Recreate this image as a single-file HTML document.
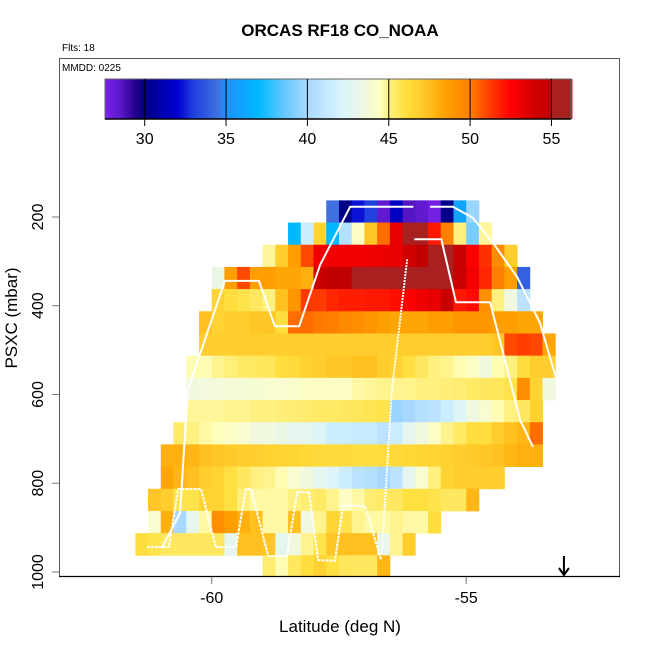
<!DOCTYPE html>
<html><head><meta charset="utf-8"><style>
html,body{margin:0;padding:0;background:#fff;}
svg{display:block;font-family:"Liberation Sans",sans-serif;}
</style></head><body>
<svg id="chart" width="650" height="650" viewBox="0 0 650 650">
<g id="cells"></g>
<g id="tracks"></g>
<g id="colorbar"></g>
<g id="axes"></g>
<text x="340" y="36" text-anchor="middle" font-size="17" font-weight="bold">ORCAS RF18 CO_NOAA</text>
<text x="62" y="51" font-size="10">Flts: 18</text>
<text x="62" y="71" font-size="10">MMDD: 0225</text>
<text x="340" y="632" text-anchor="middle" font-size="17">Latitude (deg N)</text>
<text transform="translate(17,318) rotate(-90)" text-anchor="middle" font-size="17">PSXC (mbar)</text>
</svg>
<script>
// ---- data ----
const latStep = 0.25;
const presStep = 50;
const presTop = 162.5;
const rowStartLat = [-57.75,-58.5,-59,-60,-60,-60.25,-60.25,-60.5,-60.5,-60.5,-60.75,-61,-61,-61.25,-61.25,-61.5,-59];
const row0 = [34.5,30.2,32.3,33,28.3,31.5,28.6,28.3,27.8,30.2,36,39.7];
const row1 = [37,41.5,46.6,37,40.5,44.3,47.2,50.3,53.3,56,55.2,52,50,45,39,44.8];
const row2 = [44.8,46.9,48.6,51,52.9,52.9,52.9,52.9,53,53.1,53.3,54,55,55.1,56,54.5,52.6,51.5,49.5,46.9];
const row3 = [43.2,48.6,51,48.6,48.6,48.3,48.3,48,54.5,55,55,55.1,55.1,55.2,56,55.1,55.2,56,55.2,54.5,52.9,51.7,50,48.6,34];
const row4 = [46.6,46.1,45.8,45.5,45,47.5,49,51.3,51.3,51.7,51.9,51.9,52,52,52.2,52.5,53,53.3,54.5,52,52.3,49.3,45,43.5,40.8];
const row5 = [47.5,46.6,46.9,46.9,47.2,47.2,46.1,50.3,50.3,50.1,50,49.6,49.3,49,48.6,48.3,48.3,48.3,48.6,48.6,49,49,49,48.6,48.6,48.3,48.3];
const row6 = [46.9,46.8,46.8,46.9,46.9,46.9,46.9,46.9,46.9,46.9,46.9,46.9,46.9,46.9,46.9,46.9,46.9,46.9,46.9,46.9,46.9,46.9,46.9,47.2,51,51.2,51,48.3];
const row7 = [44.6,44.6,44.9,45.1,45.4,45.5,45.6,46.1,46.3,46.7,46.9,47.2,47.2,47.5,47.5,46.9,46.6,46,45.5,45,44.9,44.6,44.3,43.5,44.6,45,46.1,46.9,46.9];
const row8 = [43.5,43.6,43.7,43.8,43.8,43.9,44,44,44.1,44.3,44.3,44.3,44.4,44.7,44.8,44.9,44.9,44.9,45,45,45.1,45.2,45.4,45.5,45.6,45.8,49.3,46.6,43.5];
const row9 = [44.8,44.8,44.8,44.9,44.9,45,45,45.1,45.2,45.3,45.4,45.4,45.5,45.6,45.7,45.8,39.7,40,40.5,40.8,41.5,42.5,43.5,44,44.6,45,45.5,46.7];
const row10 = [45.4,45,44.7,44.5,44.3,44,43.5,43.5,43.2,42.8,42.8,42.3,41.5,41.5,41.3,41.3,40.8,41.5,42.8,43.5,44.3,44.9,45.4,46.1,46.1,46.9,47.5,47.8,50.3];
const row11 = [48,48,47.8,47.5,47.2,47,46.9,46.8,46.7,46.6,46.5,46.4,46.3,46.2,46.2,46.1,46.1,46.2,46.3,46.4,46.5,46.6,46.7,46.9,47,47.2,47.5,47.8,48,48];
const row12 = [48.3,47.8,47.5,46.9,46.6,46,45.5,45,44.9,44.6,44,43.5,42.8,42.3,41.5,40.8,40.5,40,40.8,42.8,44,45,46.6,46.9,46.9,46.9,46.9];
const row13 = [47.2,46.9,45.8,45.8,46.5,46.6,46,45,44.7,44.7,44.7,45,45.2,45.4,44.9,44.3,44.7,45.2,45.4,45.5,46,46,45.8,45.5,45.5,47.8];
const row14 = [44,48,40,42.8,44.7,49.3,48.6,48,47.5,44.7,44.7,47.5,43.5,44.9,46.5,45.8,44.9,44.7,44.7,44.9,44.7,44.7,46.1];
const row15 = [46.1,45.8,45.5,45.5,45.5,45.5,45.5,42.8,47.5,47.5,47.2,42.8,43.5,44.9,45.8,47.2,47.5,47.5,47.5,43,44.9,46.9];
const row16 = [45.2,44.6,45.5,46.1,46.7,46,45.6,45.5,45.5,47.8];
const coRows = [row0,row1,row2,row3,row4,row5,row6,row7,row8,row9,row10,row11,row12,row13,row14,row15,row16];

const trackALat = [-60.98,-60.62,-60.47,-59.74,-59.07,-58.76,-58.28,-57.87,-57.28,-56.04];
const trackAPres = [946,867,590,344,344,446,446,308,177,177];
const trackBLat = [-55.71,-55.26,-54.87,-54.47,-54.0,-53.55,-53.24];
const trackBPres = [177,177,202,259,335,439,561];
const trackCLat = [-56.02,-55.49,-55.2,-54.53,-54.24,-53.94,-53.69];
const trackCPres = [250,250,392,392,522,658,718];
const trackDLat = [-56.16,-56.46,-56.65,-56.67];
const trackDPres = [295,590,944,960];
const trackELat = [-61.27,-60.84,-60.66,-60.21,-59.92,-59.52,-59.33,-59.23,-58.89,-58.52,-58.32,-58.09,-57.91,-57.58,-57.42,-56.99,-56.67];
const trackEPres = [944,944,813,813,944,944,813,813,964,964,820,820,973,975,851,851,973];

const cbTicks = [30,35,40,45,50,55];
const yTicks = [200,400,600,800,1000];
const xTicks = [-60,-55];
const arrowLat = -53.08;

// ---- scales ----
function xs(lat){ return 211.7 + (lat + 60) * 50.9; }
function ys(p){ return 217 + (p - 200) * 0.4437; }
function cbx(v){ return 144.7 + (v - 30) * 16.27; }

const stops = [[27.5,'#8020f0'],[28.5,'#5a18c8'],[29.5,'#200088'],[30,'#000080'],[31,'#0000b0'],[32,'#0000d0'],[33,'#2040e0'],[34.5,'#4070e0'],[35,'#2090ff'],[37,'#00b8ff'],[38.5,'#60c8ff'],[40,'#a8d8ff'],[42,'#d8f4ff'],[43.5,'#f0f8e0'],[44.5,'#ffffc0'],[45,'#fff080'],[46,'#ffe040'],[47.5,'#ffc020'],[48.5,'#ffa000'],[50,'#ff8000'],[50.5,'#ff6000'],[52.5,'#ff0000'],[54,'#d00000'],[55,'#c00000'],[55.01,'#a82020'],[56.3,'#a82020']];
function hex(c){ return [parseInt(c.substr(1,2),16),parseInt(c.substr(3,2),16),parseInt(c.substr(5,2),16)]; }
function cmap(v){
  if (v <= stops[0][0]) return stops[0][1];
  for (let i=1;i<stops.length;i++){
    if (v <= stops[i][0]){
      const a=hex(stops[i-1][1]), b=hex(stops[i][1]);
      const t=(v-stops[i-1][0])/(stops[i][0]-stops[i-1][0]);
      return 'rgb('+a.map((x,j)=>Math.round(x+(b[j]-x)*t)).join(',')+')';
    }
  }
  return stops[stops.length-1][1];
}
const NS='http://www.w3.org/2000/svg';
function mk(tag, attrs, parent){ const e=document.createElementNS(NS,tag); for(const k in attrs) e.setAttribute(k,attrs[k]); parent.appendChild(e); return e; }

// ---- cells ----
const gc=document.getElementById('cells');
coRows.forEach((row,r)=>{
  const p0 = presTop + r*presStep;
  const y0 = ys(p0), y1 = Math.min(ys(p0+presStep), 576);
  row.forEach((v,i)=>{
    const la = rowStartLat[r] + i*latStep;
    const x0 = xs(la), x1 = xs(la+latStep);
    const el = mk('rect',{x:x0.toFixed(2),y:y0.toFixed(2),width:(x1-x0+0.4).toFixed(2),height:(y1-y0+0.4).toFixed(2),fill:cmap(v)},gc);
    
    
  });
});

// ---- tracks ----
const gt=document.getElementById('tracks');
function track(lats, ps, dash, name){
  const pts = lats.map((la,i)=>xs(la).toFixed(1)+','+ys(ps[i]).toFixed(1)).join(' ');
  const el = mk('polyline',{points:pts,fill:'none',stroke:'#ffffff','stroke-width':2,'stroke-linejoin':'round'},gt);
  if (dash) el.setAttribute('stroke-dasharray', dash);
  
  
}
track(trackALat, trackAPres, null, 'flight-track-a');
track(trackBLat, trackBPres, null, 'flight-track-b');
track(trackCLat, trackCPres, null, 'flight-track-c');
track(trackDLat, trackDPres, '2 1', 'flight-track-d');
track(trackELat, trackEPres, '3 1', 'flight-track-e');

// ---- colorbar ----
const gb=document.getElementById('colorbar');
for (let v=27.56; v<56.19; v+=0.1){
  const el = mk('rect',{x:cbx(v).toFixed(2),y:79,width:(16.27*0.1+0.5).toFixed(2),height:40,fill:cmap(v+0.05)},gb);
  
  
}
mk('rect',{x:cbx(27.56),y:79,width:cbx(56.19)-cbx(27.56),height:40,fill:'none',stroke:'#666','stroke-width':1},gb);
mk('line',{x1:cbx(27.56),x2:cbx(56.19),y1:119,y2:119,stroke:'#000','stroke-width':1.5},gb);
cbTicks.forEach(t=>{
  const l = mk('line',{x1:cbx(t),x2:cbx(t),y1:79,y2:126,stroke:'#000','stroke-width':1},gb);
  
  
  const tx = mk('text',{x:cbx(t),y:144,'text-anchor':'middle','font-size':16},gb);
  tx.textContent = t;
  
  
});

// ---- axes ----
const ga=document.getElementById('axes');
const frame = mk('rect',{x:59.5,y:58.5,width:560,height:518,fill:'none',stroke:'#555','stroke-width':1},ga);


mk('line',{x1:59,x2:620,y1:576.5,y2:576.5,stroke:'#000','stroke-width':1.2},ga);
xTicks.forEach(t=>{
  const l = mk('line',{x1:xs(t),x2:xs(t),y1:577,y2:584,stroke:'#777','stroke-width':1},ga);
  
  
  const tx = mk('text',{x:xs(t),y:603,'text-anchor':'middle','font-size':16},ga);
  tx.textContent = t;
  
  
});
yTicks.forEach(t=>{
  const l = mk('line',{x1:52,x2:59,y1:ys(t),y2:ys(t),stroke:'#777','stroke-width':1},ga);
  
  
  const tx = mk('text',{transform:'translate(43,'+ys(t).toFixed(1)+') rotate(-90)','text-anchor':'middle','font-size':16},ga);
  tx.textContent = t;
  
  
});
const ax = xs(arrowLat);
const ar = mk('path',{d:'M'+ax+' 556 L'+ax+' 575 M'+(ax-5)+' 568 L'+ax+' 575 L'+(ax+5)+' 568',stroke:'#000','stroke-width':2,fill:'none'},ga);


</script>
</body></html>
